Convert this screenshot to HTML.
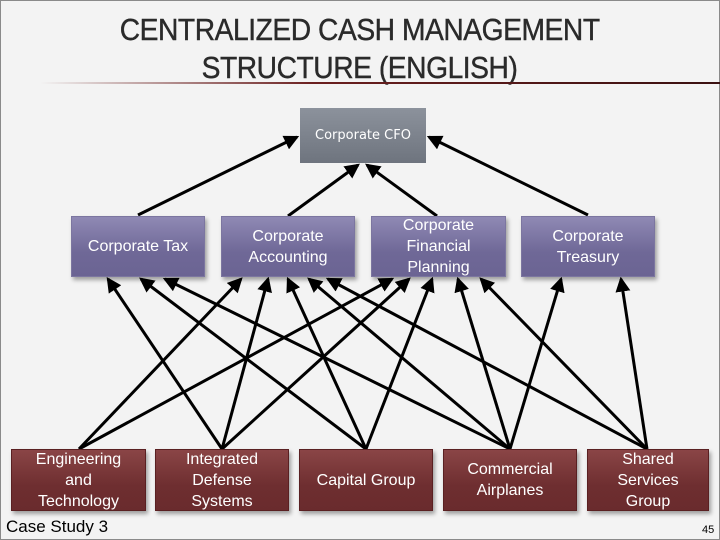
<!DOCTYPE html>
<html><head><meta charset="utf-8"><style>
html,body{margin:0;padding:0}
body{width:720px;height:540px;position:relative;overflow:hidden;background:#f3f3f3;font-family:"Liberation Sans",sans-serif}
.frame{position:absolute;left:0;top:0;width:718px;height:538px;border:1px solid #8a8a8a}
.t{position:absolute;left:0;width:720px;text-align:center;color:#2a2a2a;font-size:31px;letter-spacing:-0.5px;-webkit-text-stroke:0.4px #2a2a2a}
.t span{display:inline-block;transform:scaleX(0.91)}
.hr{position:absolute;left:40px;top:82px;width:680px;height:2px;background:linear-gradient(to right,rgba(140,40,40,0),#6b1f1f 40%,#3a1010)}
.b{position:absolute;display:flex;align-items:center;justify-content:center;text-align:center;color:#fff;font-size:16px;line-height:21px;box-shadow:2px 3px 4px rgba(0,0,0,0.35)}
.p{background:linear-gradient(#8f89b4,#6f6897 60%,#6b6493);border:1px solid #7c76a0}
.m{background:linear-gradient(#8a4546,#6e2e30 60%,#6a2b2d);border:1px solid #5a2022}
.c{background:linear-gradient(#8c929c,#6e747e);font-family:"DejaVu Sans",sans-serif;font-size:13px;box-shadow:none}
svg{position:absolute;left:0;top:0}
</style></head><body>
<div class="frame"></div>
<div class="t" style="top:12px"><span>CENTRALIZED CASH MANAGEMENT</span></div>
<div class="t" style="top:50px"><span>STRUCTURE (ENGLISH)</span></div>
<div class="hr"></div>
<svg width="720" height="540">
<defs><marker id="a" markerWidth="5" markerHeight="5" refX="4.2" refY="2.5" orient="auto" markerUnits="strokeWidth"><path d="M0,0 L5,2.5 L0,5 z" fill="#000"/></marker></defs>
<g stroke="#000" stroke-width="3" marker-end="url(#a)">
<line x1="138" y1="215" x2="297" y2="137"/>
<line x1="288" y1="216" x2="358" y2="165"/>
<line x1="437" y1="216" x2="367" y2="165"/>
<line x1="588" y1="215" x2="429" y2="137"/>
<line x1="79" y1="449" x2="241" y2="279"/>
<line x1="79" y1="449" x2="392" y2="279"/>
<line x1="222" y1="449" x2="108" y2="279"/>
<line x1="222" y1="449" x2="268" y2="279"/>
<line x1="222" y1="449" x2="409" y2="279"/>
<line x1="366" y1="449" x2="141" y2="279"/>
<line x1="366" y1="449" x2="288" y2="279"/>
<line x1="366" y1="449" x2="432" y2="279"/>
<line x1="510" y1="449" x2="165" y2="279"/>
<line x1="510" y1="449" x2="309" y2="279"/>
<line x1="510" y1="449" x2="458" y2="279"/>
<line x1="510" y1="449" x2="561" y2="279"/>
<line x1="647" y1="449" x2="328" y2="279"/>
<line x1="647" y1="449" x2="481" y2="279"/>
<line x1="647" y1="449" x2="621" y2="279"/>
</g>
</svg>
<div class="b c" style="left:300px;top:108px;width:126px;height:55px">Corporate CFO</div>
<div class="b p" style="left:71px;top:216px;width:132px;height:59px">Corporate Tax</div>
<div class="b p" style="left:221px;top:216px;width:132px;height:59px">Corporate<br>Accounting</div>
<div class="b p" style="left:371px;top:216px;width:133px;height:59px">Corporate<br>Financial<br>Planning</div>
<div class="b p" style="left:521px;top:216px;width:132px;height:59px">Corporate<br>Treasury</div>
<div class="b m" style="left:11px;top:449px;width:133px;height:60px">Engineering<br>and<br>Technology</div>
<div class="b m" style="left:155px;top:449px;width:132px;height:60px">Integrated<br>Defense<br>Systems</div>
<div class="b m" style="left:299px;top:449px;width:132px;height:60px">Capital Group</div>
<div class="b m" style="left:443px;top:449px;width:132px;height:60px">Commercial<br>Airplanes</div>
<div class="b m" style="left:587px;top:449px;width:120px;height:60px">Shared<br>Services<br>Group</div>
<div style="position:absolute;left:6px;top:517px;font-size:17px;color:#000">Case Study 3</div>
<div style="position:absolute;left:702px;top:524px;font-size:11px;color:#000">45</div>
</body></html>
